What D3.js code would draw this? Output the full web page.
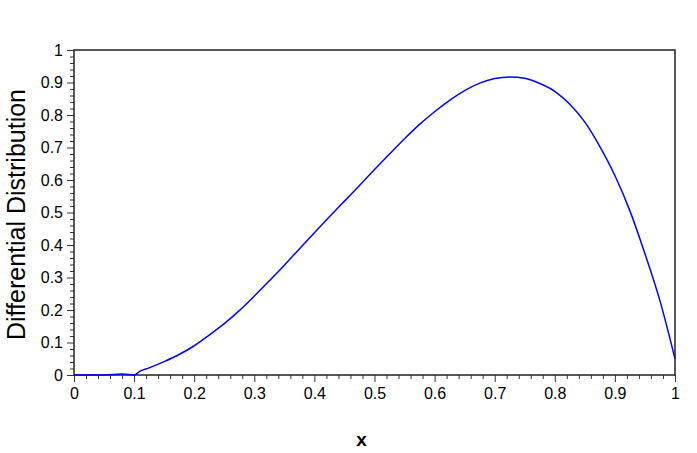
<!DOCTYPE html>
<html>
<head>
<meta charset="utf-8">
<script src="https://cdn.jsdelivr.net/npm/d3@7"></script>
<style>
  body { margin: 0; background: #fff; }
  text { font-family: "Liberation Sans", Arial, sans-serif; }
</style>
</head>
<body>
<div id="wrapper"></div>
<script>
// values
const xValues = [0, 0.05, 0.08, 0.1, 0.11, 0.125, 0.15, 0.175, 0.2, 0.225, 0.25,
  0.275, 0.3, 0.325, 0.35, 0.375, 0.4, 0.425, 0.45, 0.475, 0.5, 0.525, 0.55,
  0.575, 0.6, 0.625, 0.65, 0.675, 0.7, 0.725, 0.75, 0.775, 0.8, 0.825, 0.85,
  0.875, 0.9, 0.925, 0.95, 0.975, 1.0]
const yValues = [0, 0, 0.003, 0, 0.012, 0.022, 0.041, 0.063, 0.09, 0.123, 0.158,
  0.198, 0.243, 0.29, 0.338, 0.388, 0.438, 0.487, 0.535, 0.583, 0.632, 0.68, 0.727,
  0.771, 0.81, 0.845, 0.875, 0.898, 0.912, 0.917, 0.913, 0.897, 0.873, 0.833, 0.778,
  0.703, 0.614, 0.505, 0.373, 0.228, 0.05]
const majorTicks = [0, 0.1, 0.2, 0.3, 0.4, 0.5, 0.6, 0.7, 0.8, 0.9, 1]
const minorTicks = d3.range(0, 51).map(i => i / 50).filter(v => Math.round(v * 50) % 5 !== 0)
const xLabel = "x"
const yLabel = "Differential Distribution"

const data = xValues.map((x, i) => ({ x: x, y: yValues[i] }))
const xAccessor = d => d.x
const yAccessor = d => d.y

let dimensions = {
  width: 697,
  height: 453,
  margin: { top: 50, right: 22, bottom: 78, left: 74 },
}
dimensions.boundedWidth = dimensions.width - dimensions.margin.left - dimensions.margin.right
dimensions.boundedHeight = dimensions.height - dimensions.margin.top - dimensions.margin.bottom

const wrapper = d3.select("#wrapper")
  .append("svg")
    .attr("width", dimensions.width)
    .attr("height", dimensions.height)

const bounds = wrapper.append("g")
    .attr("transform", `translate(${dimensions.margin.left},${dimensions.margin.top})`)

const xScale = d3.scaleLinear()
    .domain([0, 1])
    .range([0, dimensions.boundedWidth])
const yScale = d3.scaleLinear()
    .domain([0, 1])
    .range([dimensions.boundedHeight, 0])

// minor ticks first, then major ones with labels
const xMinor = bounds.append("g")
    .attr("transform", `translate(0,${dimensions.boundedHeight})`)
    .call(d3.axisBottom(xScale).tickValues(minorTicks).tickSize(4).tickFormat(""))
const yMinor = bounds.append("g")
    .call(d3.axisLeft(yScale).tickValues(minorTicks).tickSize(4).tickFormat(""))

const xAxis = bounds.append("g")
    .attr("transform", `translate(0,${dimensions.boundedHeight})`)
    .call(d3.axisBottom(xScale).tickValues(majorTicks).tickSize(7).tickPadding(6)
      .tickFormat(d3.format("~g")))
const yAxis = bounds.append("g")
    .call(d3.axisLeft(yScale).tickValues(majorTicks).tickSize(7).tickPadding(4)
      .tickFormat(d3.format("~g")))

bounds.selectAll(".domain").remove()
bounds.selectAll(".tick line").attr("stroke", "#333").attr("stroke-width", 1)
bounds.selectAll(".tick text")
    .attr("fill", "#000")
    .style("font-size", "16px")
    .style("font-family", "'Liberation Sans', Arial, sans-serif")

// frame around the plot
bounds.append("rect")
    .attr("x", 0)
    .attr("y", 0)
    .attr("width", dimensions.boundedWidth)
    .attr("height", dimensions.boundedHeight)
    .attr("fill", "none")
    .attr("stroke", "#222")
    .attr("stroke-width", 1.5)

const lineGenerator = d3.line()
    .x(d => xScale(xAccessor(d)))
    .y(d => yScale(yAccessor(d)))
    .curve(d3.curveMonotoneX)

bounds.append("path")
    .attr("d", lineGenerator(data))
    .attr("fill", "none")
    .attr("stroke", "#0000ff")
    .attr("stroke-width", 1.5)

bounds.append("text")
    .attr("x", dimensions.boundedWidth / 2 - 13)
    .attr("y", dimensions.boundedHeight + 71)
    .attr("text-anchor", "middle")
    .style("font-size", "19px")
    .style("font-weight", "bold")
    .text(xLabel)

bounds.append("text")
    .attr("transform", `translate(${-dimensions.margin.left + 25},${dimensions.boundedHeight / 2 + 2}) rotate(-90)`)
    .attr("text-anchor", "middle")
    .style("font-size", "25px")
    .text(yLabel)
</script>
</body>
</html>
